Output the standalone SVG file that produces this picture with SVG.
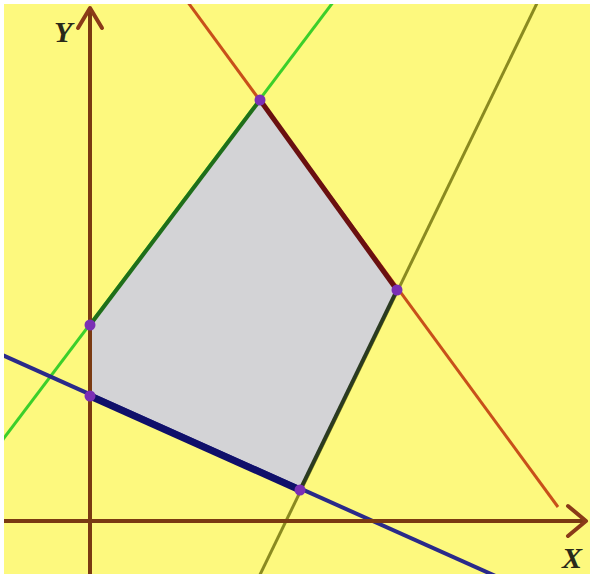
<svg xmlns="http://www.w3.org/2000/svg" width="594" height="578" viewBox="0 0 594 578">
<defs>
<style>
.ax{stroke:#7a3a12;stroke-width:4;fill:none}
.ah{stroke:#8a3a18;stroke-width:4;fill:none;stroke-linecap:round;stroke-linejoin:round}
.pt{fill:#7b2fb5}
.lbl{font-family:"Liberation Serif",serif;font-style:italic;font-weight:bold;font-size:30px;fill:#2a2a1a}
</style>
<clipPath id="c"><rect x="4" y="4" width="586" height="570"/></clipPath>
</defs>
<rect width="594" height="578" fill="#ffffff"/>
<rect x="4" y="4" width="586" height="570" fill="#fdf97e"/>
<g clip-path="url(#c)">
<g id="region"><polygon points="90,325 260,100 397,290 300,490 90,396" fill="#d3d3d6"/></g>
<g id="connectors">
<line x1="-5" y1="450" x2="340" y2="-7" stroke="#3ccf2a" stroke-width="3"/>
<line x1="187" y1="1" x2="558" y2="507" stroke="#c8501a" stroke-width="3"/>
<line x1="540" y1="-3" x2="255" y2="585" stroke="#8a8a20" stroke-width="3"/>
<line x1="0" y1="354" x2="500" y2="578" stroke="#2a2a8a" stroke-width="4"/>
<line x1="90" y1="325" x2="260" y2="100" stroke="#1f6e1a" stroke-width="4"/>
<line x1="260" y1="100" x2="397" y2="290" stroke="#6a1010" stroke-width="5"/>
<line x1="397" y1="290" x2="300" y2="490" stroke="#2a3a20" stroke-width="4"/>
<line x1="90" y1="396" x2="300" y2="490" stroke="#10106a" stroke-width="7"/>
<line class="ax" x1="90" y1="578" x2="90" y2="8"/>
<line class="ax" x1="4" y1="521" x2="586" y2="521"/>
<polyline class="ah" points="78,28 90,8 102,28"/>
<polyline class="ah" points="568,506 586,521 568,536"/>
</g>
<g id="vertices">
<circle class="pt" cx="260" cy="100" r="5.5"/>
<circle class="pt" cx="397" cy="290" r="5.5"/>
<circle class="pt" cx="300" cy="490" r="5.5"/>
<circle class="pt" cx="90" cy="396" r="5.5"/>
<circle class="pt" cx="90" cy="325" r="5.5"/>
</g>
</g>
<g id="labels">
<text class="lbl" x="54" y="42">Y</text>
<text class="lbl" x="562" y="568" font-size="28">X</text>
</g>
</svg>
